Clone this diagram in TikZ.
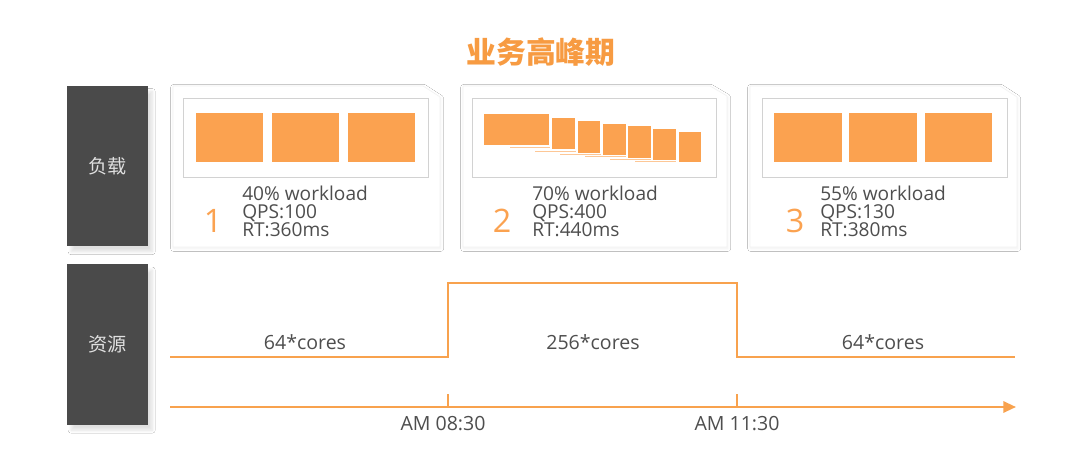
\documentclass[tikz,border=0pt]{standalone}
\usepackage{fontspec}
\setmainfont{Open Sans}
\newfontfamily\cjk{Noto Sans CJK SC}
\usetikzlibrary{arrows.meta,shadows.blur}
\definecolor{orng}{HTML}{FBA250}
\definecolor{lineor}{HTML}{F8A24E}
\definecolor{titleor}{HTML}{F79B42}
\definecolor{darkbox}{HTML}{4A4A4A}
\definecolor{txt}{HTML}{4E4E4E}
\definecolor{frame}{HTML}{D2D2D2}
\begin{document}
\begin{tikzpicture}[x=0.025cm,y=-0.025cm,
  sidebox/.style={fill=darkbox, minimum width=2.025cm, minimum height=4.0cm, inner sep=0pt,
     text=white!88!black, font=\cjk\fontsize{13.6}{13.6}\selectfont,
     blur shadow={shadow xshift=3pt, shadow yshift=-4pt, shadow opacity=12, shadow blur steps=8}},
  card/.style={fill=white, draw=white!95!black, line width=0.4pt,
     blur shadow={shadow xshift=0.5pt, shadow yshift=-1pt, shadow opacity=6, shadow blur steps=8}},
  inframe/.style={draw=frame, line width=0.6pt},
  block/.style={fill=orng, draw=none},
  stackline/.style={draw=orng!60, line width=0.5pt},
  metric/.style={text=txt, align=left, anchor=west, inner sep=0pt,
     font=\fontsize{13.6}{12.8}\selectfont},
  numlbl/.style={text=orng, inner sep=0pt, font=\fontsize{23}{23}\selectfont},
  lvl/.style={draw=lineor, line width=1.6pt},
  axislbl/.style={text=txt, inner sep=0pt, font=\fontsize{13.9}{13.9}\selectfont},
]
\useasboundingbox[fill=white] (0,0) rectangle (1080,468);

% title
\node[text=titleor, font=\cjk\bfseries\fontsize{21.2}{21.2}\selectfont, inner sep=0pt] (title) at (541,52) {业务高峰期};

% side boxes
\node[sidebox] (load) at (107.5,166) {负载};
\node[sidebox] (res) at (107.5,344.5) {资源};

% card 1
\path[card] (173,86) -- (423,86) -- (440,97) -- (440,247) -- (173,247) -- cycle;
\draw[inframe] (183,98) rectangle (428,177);
\fill[block] (196,113) rectangle (263,162);
\fill[block] (272,113) rectangle (339,162);
\fill[block] (348,113) rectangle (415,162);
\node[numlbl] (n1) at (213,221) {1};
\node[metric] (m1) at (242,211) {40\% workload\\QPS:100\\RT:360ms};

% card 2
\path[card] (463,86) -- (710,86) -- (727,96) -- (727,247) -- (463,247) -- cycle;
\draw[inframe] (472,98) rectangle (716,177);
\draw[stackline] (510,147) -- (550,147);
\draw[stackline] (535,151) -- (576,151);
\draw[stackline] (560,154) -- (601,154);
\draw[stackline] (585,156.5) -- (626,156.5);
\draw[stackline] (610,159) -- (651,159);
\draw[stackline] (635,161.5) -- (676,161.5);
\fill[block] (484,114) rectangle (549,145);
\fill[block] (552,118) rectangle (575,149);
\fill[block] (577.5,121) rectangle (600,152.5);
\fill[block] (602.5,123.5) rectangle (625.5,155);
\fill[block] (627.5,126) rectangle (650.5,157.5);
\fill[block] (652.5,129) rectangle (676,159.5);
\fill[block] (678.5,132) rectangle (700.5,161.5);
\node[numlbl] (n2) at (502,221) {2};
\node[metric] (m2) at (532,211) {70\% workload\\QPS:400\\RT:440ms};

% card 3
\path[card] (750,86) -- (1000,86) -- (1017,97) -- (1017,247) -- (750,247) -- cycle;
\draw[inframe] (762,98) rectangle (1007,177);
\fill[block] (774,113) rectangle (842,162);
\fill[block] (849,113) rectangle (917,162);
\fill[block] (925,113) rectangle (992,162);
\node[numlbl] (n3) at (795,221) {3};
\node[metric] (m3) at (820,211) {55\% workload\\QPS:130\\RT:380ms};

% resource levels
\coordinate (s0) at (170,357);
\coordinate (s1) at (448,357);
\coordinate (s2) at (448,283);
\coordinate (s3) at (737,283);
\coordinate (s4) at (737,357);
\coordinate (s5) at (1015,357);
\draw[lvl, line join=miter] (s0) -- (s1) -- (s2) -- (s3) -- (s4) -- (s5);
\node[axislbl] (c1) at (305,342) {64*cores};
\node[axislbl] (c2) at (593,342) {256*cores};
\node[axislbl] (c3) at (883,342) {64*cores};

% time axis
\coordinate (a0) at (170,407);
\coordinate (a1) at (1016,407);
\coordinate (t1) at (448,407);
\coordinate (t1u) at (448,394);
\coordinate (t2) at (737,407);
\coordinate (t2u) at (737,394);
\draw[lvl, -{Triangle[length=9pt,width=8pt]}] (a0) -- (a1);
\draw[lvl] (t1) -- (t1u);
\draw[lvl] (t2) -- (t2u);
\node[axislbl] (am1) at (443,424) {AM 08:30};
\node[axislbl] (am2) at (737,424) {AM 11:30};
\end{tikzpicture}
\end{document}
